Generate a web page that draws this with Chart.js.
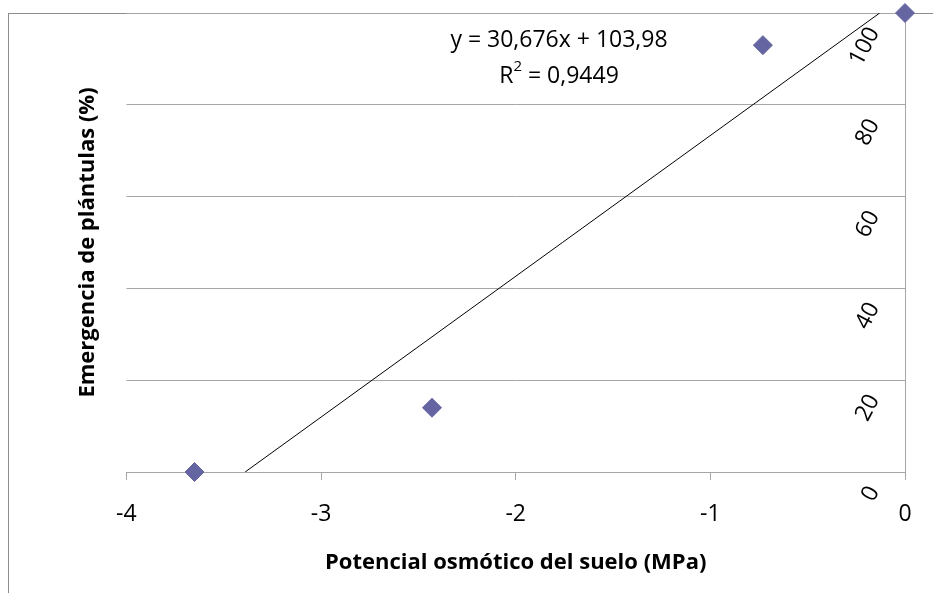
<!DOCTYPE html>
<html lang="es">
<head>
  <meta charset="UTF-8" />
  <title>Emergencia de plántulas</title>
  <script src="https://cdn.jsdelivr.net/npm/chart.js"></script>
  <style>
    * { box-sizing: border-box; margin: 0; padding: 0; }
    body { background: white; width: 933px; height: 601px; overflow: hidden; position: relative; }
    .frame {
      position: absolute; left: 8px; top: 13px; width: 925px; height: 580px;
      border-left: 1.5px solid #8c8c8c; border-top: 1.5px solid #8c8c8c;
    }
    .chart-container { position: absolute; left: 0; top: 0; width: 933px; height: 601px; }
  </style>
</head>
<body>
  <div class="frame"></div>
  <div class="chart-container">
    <canvas id="scatterChart"></canvas>
  </div>

  <script>
    // observed points (x = MPa, y = %)
    const potencial = [-3.65, -2.43, -0.73, 0];
    const emergencia = [0, 14, 93, 100];
    // linear trendline y = 30,676x + 103,98, clipped to 0..100
    const trendX = [-3.39, -0.13];
    const trendY = [0, 100];
    const xTicks = [-4, -3, -2, -1, 0];
    const yTicks = [0, 20, 40, 60, 80, 100];
    const ecuacion = 'y = 30,676x + 103,98';
    const r2 = '0,9449';

    const FONT = "'Open Sans', Lato, sans-serif";
    const grey = '#a6a6a6';

    // rotated y tick labels, left of the y axis, plus the equation box
    const extras = {
      id: 'extras',
      afterDraw(chart) {
        const ctx = chart.ctx;
        const y = chart.scales.y;
        ctx.save();
        ctx.fillStyle = '#000';
        ctx.font = '23px ' + FONT;
        ctx.textAlign = 'right';
        ctx.textBaseline = 'middle';
        yTicks.forEach(v => {
          const py = y.getPixelForValue(v);
          ctx.save();
          ctx.translate(y.left - 31, py + 16);
          ctx.rotate(-62 * Math.PI / 180);
          ctx.fillText(String(v), 0, 0);
          ctx.restore();
        });

        // equation + R²
        const cx = 559;
        ctx.textAlign = 'center';
        ctx.textBaseline = 'alphabetic';
        ctx.font = '23px ' + FONT;
        ctx.fillText(ecuacion, cx, 47);

        ctx.textAlign = 'left';
        const part1 = 'R';
        const part3 = ' = ' + r2;
        const w1 = ctx.measureText(part1).width;
        const w3 = ctx.measureText(part3).width;
        ctx.font = '15px ' + FONT;
        const w2 = ctx.measureText('2').width;
        let x0 = cx - (w1 + w2 + w3) / 2;
        ctx.font = '23px ' + FONT;
        ctx.fillText(part1, x0, 83);
        ctx.font = '15px ' + FONT;
        ctx.fillText('2', x0 + w1, 71);
        ctx.font = '23px ' + FONT;
        ctx.fillText(part3, x0 + w1 + w2, 83);
        ctx.restore();
      }
    };

    new Chart(document.getElementById('scatterChart'), {
      type: 'scatter',
      data: {
        datasets: [{
          label: 'Emergencia',
          data: potencial.map((x, i) => ({ x: x, y: emergencia[i] })),
          pointStyle: 'rectRot',
          pointRadius: 9.5,
          backgroundColor: '#6465a1',
          borderColor: '#6465a1',
          borderWidth: 1,
          clip: false,
          order: 1
        }, {
          label: 'Lineal',
          data: trendX.map((x, i) => ({ x: x, y: trendY[i] })),
          showLine: true,
          borderColor: '#000',
          borderWidth: 1,
          pointRadius: 0,
          order: 2
        }]
      },
      options: {
        responsive: true,
        maintainAspectRatio: false,
        animation: false,
        layout: { padding: { left: 75, right: 28, top: 13, bottom: 0 } },
        plugins: {
          legend: { display: false },
          tooltip: { enabled: false }
        },
        scales: {
          x: {
            type: 'linear',
            min: -4, max: 0,
            afterBuildTicks: s => { s.ticks = xTicks.map(v => ({ value: v })); },
            grid: { drawOnChartArea: false, color: grey, tickLength: 8 },
            border: { color: grey },
            ticks: { color: '#000', font: { family: FONT, size: 23 }, padding: 21 },
            title: {
              display: true,
              text: 'Potencial osmótico del suelo (MPa)',
              color: '#000',
              font: { family: FONT, size: 22, weight: 'bold' },
              padding: { top: 0, bottom: 25 }
            }
          },
          y: {
            type: 'linear',
            position: 'right',
            min: 0, max: 100,
            afterBuildTicks: s => { s.ticks = yTicks.map(v => ({ value: v })); },
            grid: { color: grey, drawTicks: false },
            border: { color: grey },
            ticks: { display: false }
          },
          yTitle: {
            type: 'linear',
            position: 'left',
            min: 0, max: 100,
            grid: { display: false, drawTicks: false },
            border: { display: false },
            ticks: { display: false },
            title: {
              display: true,
              text: 'Emergencia de plántulas (%)',
              color: '#000',
              font: { family: FONT, size: 22, weight: 'bold' },
              padding: { top: 0, bottom: 25 }
            }
          }
        }
      },
      plugins: [extras]
    });
  </script>
</body>
</html>
